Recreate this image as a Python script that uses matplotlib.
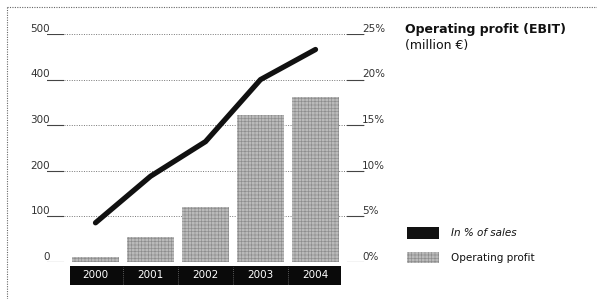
import numpy as np
import matplotlib
matplotlib.use("Agg")
import matplotlib.pyplot as plt
from matplotlib.patches import Rectangle

# data
years = ["2000", "2001", "2002", "2003", "2004"]
profit = [11, 55, 120, 322, 362]          # million EUR (left axis)
pct_sales = [4.3, 9.4, 13.2, 20.0, 23.3]  # % of sales (right axis)
left_ticks = [0, 100, 200, 300, 400, 500]
right_ticks = [0, 5, 10, 15, 20, 25]

W, H = 597, 299
plt.rcParams["hatch.linewidth"] = 0.45
fig = plt.figure(figsize=(W / 100, H / 100), dpi=100)

# axes area in pixels
x0, x1, ybot, ytop = 47, 365, 262, 34
ax = fig.add_axes([x0 / W, 1 - ybot / H, (x1 - x0) / W, (ybot - ytop) / H])
x = np.arange(len(years))
ax.set_xlim(-0.882, 4.9)
ax.set_ylim(0, 500)
for s in ax.spines.values():
    s.set_visible(False)
ax.set_xticks([])
ax.set_yticks([])

# gridlines, dotted with short solid stubs near the labels
aw = x1 - x0
for v in left_ticks:
    ax.plot([0, 1], [v, v], transform=ax.get_yaxis_transform(), ls=(0, (1, 1.5)),
            color="#777777", lw=0.7, zorder=1)
    ax.plot([0, 16 / aw], [v, v], transform=ax.get_yaxis_transform(), color="#444444", lw=0.8, zorder=1)
    ax.plot([1 - 18 / aw, 1 - 2 / aw], [v, v], transform=ax.get_yaxis_transform(),
            color="#444444", lw=0.8, zorder=1)
    ax.text(3 / aw, v + 5, str(v), transform=ax.get_yaxis_transform(), ha="right", va="baseline",
            fontsize=7.5, color="#333333")
for v, p in zip(left_ticks, right_ticks):
    ax.text(1 - 3 / aw, v + 5, f"{p}%", transform=ax.get_yaxis_transform(), ha="left", va="baseline",
            fontsize=7.5, color="#333333")

# bars
ax.bar(x, profit, width=0.855, facecolor="#bababa", edgecolor="#8c8c8c", hatch="+++++",
       linewidth=0, zorder=2)

# line on secondary scale
ax2 = ax.twinx()
ax2.set_ylim(0, 25)
ax2.set_yticks([])
for s in ax2.spines.values():
    s.set_visible(False)
ax2.plot(x, pct_sales, color="#111111", lw=3.8, solid_capstyle="round", zorder=3)

# black year band below the axis
ah = ybot - ytop
band = Rectangle((-0.464, -23 / ah), 4.928, 19 / ah, transform=ax.get_xaxis_transform(),
                 facecolor="#0a0a0a", edgecolor="none", clip_on=False)
ax.add_patch(band)
for i, yr in enumerate(years):
    ax.text(i, -13.5 / ah, yr, transform=ax.get_xaxis_transform(), ha="center", va="center",
            color="white", fontsize=7.5)
for i in range(len(years) - 1):
    ax.plot([i + 0.5, i + 0.5], [-22 / ah, -5 / ah], transform=ax.get_xaxis_transform(),
            color="#777777", lw=0.6, ls=(0, (1, 1.5)), clip_on=False)

# dotted frame (left and top)
fig.add_artist(plt.Line2D([7 / W, 7 / W], [0, 1 - 7 / H], transform=fig.transFigure,
                          color="#666666", lw=0.8, ls=(0, (1, 1.2))))
fig.add_artist(plt.Line2D([7 / W, 1], [1 - 7 / H, 1 - 7 / H], transform=fig.transFigure,
                          color="#666666", lw=0.8, ls=(0, (1, 1.2))))

# title
fig.text(405 / W, 1 - 23 / H, "Operating profit (EBIT)", fontsize=9, fontweight="bold",
         va="top", ha="left", color="#111111")
fig.text(405 / W, 1 - 39 / H, "(million \u20ac)", fontsize=9, va="top", ha="left", color="#111111")

# legend
fig.add_artist(Rectangle((407 / W, 1 - 239 / H), 32 / W, 12 / H, transform=fig.transFigure,
                         facecolor="#111111", edgecolor="none"))
fig.add_artist(Rectangle((407 / W, 1 - 263 / H), 32 / W, 11 / H, transform=fig.transFigure,
                         facecolor="#bababa", edgecolor="#8c8c8c", hatch="+++++", linewidth=0))
fig.text(451 / W, 1 - 233 / H, "In % of sales", fontsize=7.5, style="italic", va="center",
         color="#111111")
fig.text(451 / W, 1 - 258 / H, "Operating profit", fontsize=7.5, va="center", color="#111111")

fig.savefig("out.png", dpi=100)
